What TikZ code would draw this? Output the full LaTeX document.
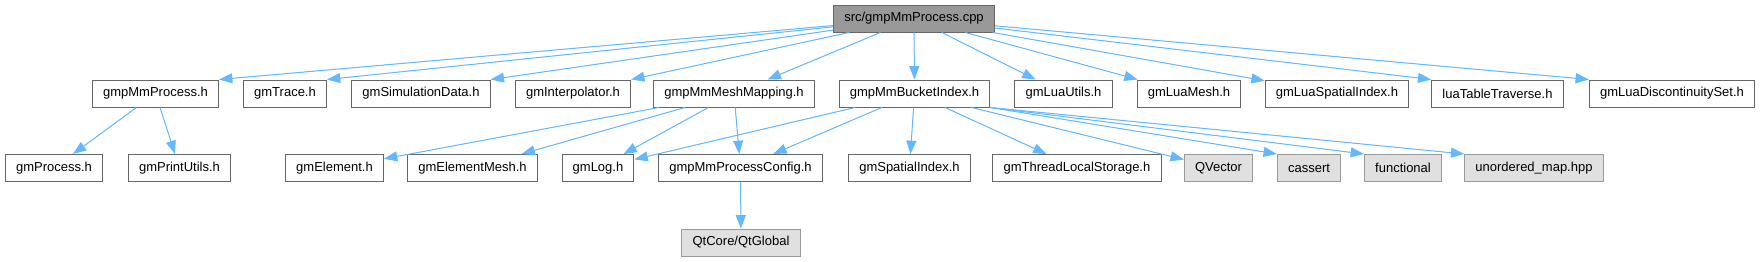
\documentclass[tikz,border=0pt]{standalone}
\usepackage{fontspec}
\setmainfont{Liberation Sans}
\usetikzlibrary{arrows.meta}
\definecolor{edgeblue}{HTML}{63B8FF}

\begin{document}
\begin{tikzpicture}[x=0.75pt, y=-0.75pt, font=\fontsize{9.75}{11}\selectfont, line width=0.75pt,
  filebox/.style={draw=black!60, fill=white, text=black, minimum height=20.25pt, inner xsep=8pt, inner ysep=0pt},
  extbox/.style={filebox, draw=black!40, fill=black!12},
  rootbox/.style={filebox, fill=black!40},
  arr/.style={-{Triangle[length=10pt,width=7.5pt]}, draw=edgeblue, fill=edgeblue, line width=0.75pt}]
\useasboundingbox (0,0) rectangle (1761,261);
% ---- root
\node[rootbox] (cpp) at (914,18.5) {src/gmpMmProcess.cpp};
% ---- direct includes
\node[filebox] (pmh) at (155.5,93.5) {gmpMmProcess.h};
\node[filebox] (trace) at (285,93.5) {gmTrace.h};
\node[filebox] (simdata) at (421,93.5) {gmSimulationData.h};
\node[filebox] (interp) at (573,93.5) {gmInterpolator.h};
\node[filebox] (meshmap) at (734,93.5) {gmpMmMeshMapping.h};
\node[filebox] (bucket) at (914.5,93.5) {gmpMmBucketIndex.h};
\node[filebox] (luautils) at (1063.5,93.5) {gmLuaUtils.h};
\node[filebox] (luamesh) at (1189,93.5) {gmLuaMesh.h};
\node[filebox] (luaspatial) at (1337,93.5) {gmLuaSpatialIndex.h};
\node[filebox] (luatable) at (1497.5,93.5) {luaTableTraverse.h};
\node[filebox] (luadisc) at (1672,93.5) {gmLuaDiscontinuitySet.h};
% ---- second level
\node[filebox] (process) at (54,168) {gmProcess.h};
\node[filebox] (printutils) at (179.5,168) {gmPrintUtils.h};
\node[filebox] (element) at (334.5,168) {gmElement.h};
\node[filebox] (elemmesh) at (472.5,168) {gmElementMesh.h};
\node[filebox] (log) at (598,168) {gmLog.h};
\node[filebox] (config) at (740.5,168) {gmpMmProcessConfig.h};
\node[filebox] (spatial) at (909.5,168) {gmSpatialIndex.h};
\node[filebox] (tls) at (1077,168) {gmThreadLocalStorage.h};
\node[extbox] (qvector) at (1218.5,168) {QVector};
\node[extbox] (cassert) at (1309,168) {cassert};
\node[extbox] (functional) at (1403,168) {functional};
\node[extbox] (unordmap) at (1534,168) {unordered\_map.hpp};
\node[extbox] (qtglobal) at (741,242.5) {QtCore/QtGlobal};
% ---- edges from the root
\draw[arr] (cpp) -- (pmh.north east);
\draw[arr] (cpp) -- (trace.north east);
\draw[arr] (cpp) -- (simdata.north east);
\draw[arr] (cpp) -- (interp.north east);
\draw[arr] (cpp) -- (meshmap);
\draw[arr] (cpp) -- (bucket);
\draw[arr] (cpp) -- (luautils);
\draw[arr] (cpp) -- (luamesh);
\draw[arr] (cpp) -- (luaspatial);
\draw[arr] (cpp) -- (luatable.north west);
\draw[arr] (cpp) -- (luadisc.north west);
% ---- edges below
\draw[arr] (pmh) -- (process);
\draw[arr] (pmh) -- (printutils);
\draw[arr] (meshmap) -- (element);
\draw[arr] (meshmap) -- (elemmesh);
\draw[arr] (meshmap) -- (log);
\draw[arr] (meshmap) -- (config);
\draw[arr] (bucket) -- (log);
\draw[arr] (bucket) -- (config);
\draw[arr] (bucket) -- (spatial);
\draw[arr] (bucket) -- (tls);
\draw[arr] (bucket) -- (qvector);
\draw[arr] (bucket.south east) -- (cassert.north west);
\draw[arr] (bucket.south east) -- (functional.north west);
\draw[arr] (bucket.south east) -- (unordmap.north west);
\draw[arr] (config) -- (qtglobal);
\end{tikzpicture}
\end{document}
